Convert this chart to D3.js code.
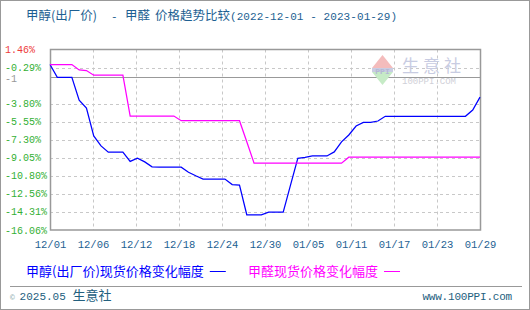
<!DOCTYPE html>
<html>
<head>
<meta charset="utf-8">
<script src="https://cdn.jsdelivr.net/npm/d3@7"></script>
<style>
  body { margin: 0; background: #fff; }
  svg { display: block; }
</style>
</head>
<body>
<div id="chart"></div>
<script>
// Data
const startDay = new Date(2022, 11, 1)
const endDay = new Date(2023, 0, 29)
const days = d3.timeDay.range(startDay, d3.timeDay.offset(endDay, 1))

// 甲醇(出厂价) daily change, %
const methanol = [
    0, -1.25, -1.25, -1.25, -3.45, -4.22, -6.93, -7.9, -8.51, -8.51,
    -8.51, -9.4, -9.09, -9.45, -9.93, -9.96, -9.96, -9.96, -9.96, -10.45,
    -10.8, -11.12, -11.12, -11.12, -11.12, -11.65, -11.7, -14.58, -14.58, -14.58,
    -14.32, -14.32, -14.32, -11.7, -9.1, -9.0, -8.87, -8.87, -8.87, -8.48,
    -7.51, -6.84, -5.97, -5.61, -5.61, -5.48, -5.02, -5.02, -5.02, -5.02,
    -5.02, -5.02, -5.02, -5.02, -5.02, -5.02, -5.02, -5.02, -4.42, -3.16
]
// 甲醛 daily change, %
const formaldehyde = [
    0, 0, 0, 0, -0.52, -0.58, -1.03, -1.03, -1.03, -1.03,
    -1.03, -5.0, -5.0, -5.0, -5.0, -5.0, -5.0, -5.0, -5.45, -5.45,
    -5.45, -5.45, -5.45, -5.45, -5.45, -5.45, -5.45, -7.5, -9.58, -9.58,
    -9.58, -9.58, -9.58, -9.58, -9.58, -9.58, -9.58, -9.58, -9.58, -9.58,
    -9.58, -8.99, -8.99, -8.99, -8.99, -8.99, -8.99, -8.99, -8.99, -8.99,
    -8.99, -8.99, -8.99, -8.99, -8.99, -8.99, -8.99, -8.99, -8.99, -8.99
]

const xTickLabels = ['12/01', '12/06', '12/12', '12/18', '12/24', '12/30', '01/05', '01/11', '01/17', '01/23', '01/29']
const yTicks = [1.46, -0.29, -3.80, -5.55, -7.30, -9.05, -10.80, -12.56, -14.31, -16.06]
const refValue = -1.25
const refLabel = '-1'

const seriesNames = ['甲醇(出厂价)现货价格变化幅度', '甲醛现货价格变化幅度']
const seriesColors = ['#0000ff', '#ff00ff']

// Dimensions
const WIDTH = 530
const HEIGHT = 310
const PLOT = { left: 50, right: 480, top: 49.5, bottom: 230 }
const MONO = '"Liberation Mono", "DejaVu Sans Mono", monospace'
const CJK = '"Noto Sans CJK SC", "Noto Sans", sans-serif'

const svg = d3.select('#chart')
    .append('svg')
    .attr('width', WIDTH)
    .attr('height', HEIGHT)

// outer frame
svg.append('rect')
    .attr('x', 0.5).attr('y', 0.5)
    .attr('width', WIDTH - 1).attr('height', HEIGHT - 1)
    .attr('fill', '#fff')
    .attr('stroke', '#999')

// Title (pieces placed where the reference has them)
const titleParts = [
    { text: '甲醇(出厂价)', x: 26, mono: false },
    { text: '-', x: 111, mono: true },
    { text: '甲醛', x: 125, mono: false },
    { text: '价格趋势比较', x: 155, mono: false },
    { text: '(2022-12-01 - 2023-01-29)', x: 230, mono: true, len: 167 }
]
const title = svg.append('text')
    .attr('y', 19.5)
    .attr('fill', '#1d5f92')
    .style('font-size', '12.5px')
titleParts.forEach(p => {
    const ts = title.append('tspan')
        .attr('x', p.x)
        .style('font-family', p.mono ? MONO : CJK)
        .style('font-size', p.mono ? '11px' : '12.5px')
        .text(p.text)
    if (p.len) ts.attr('textLength', p.len).attr('lengthAdjust', 'spacing')
})

// Scales
const xScale = d3.scaleTime()
    .domain([days[0], days[days.length - 1]])
    .range([PLOT.left, PLOT.right])

const yScale = d3.scaleLinear()
    .domain([yTicks[yTicks.length - 1], yTicks[0]])
    .range([PLOT.bottom, PLOT.top])

const span = days[days.length - 1] - days[0]
const xTickDates = xTickLabels.map((d, i) => new Date(+days[0] + span * i / (xTickLabels.length - 1)))

// Grid
svg.append('g')
    .selectAll('line')
    .data(xTickDates.slice(1, -1))
    .enter()
    .append('line')
    .attr('x1', d => Math.round(xScale(d)) + 0.5)
    .attr('x2', d => Math.round(xScale(d)) + 0.5)
    .attr('y1', PLOT.top)
    .attr('y2', PLOT.bottom)
    .attr('stroke', '#c8c8c8')
    .attr('stroke-dasharray', '3,3')

svg.append('g')
    .selectAll('line')
    .data(yTicks.slice(1, -1))
    .enter()
    .append('line')
    .attr('x1', PLOT.left)
    .attr('x2', PLOT.right)
    .attr('y1', d => Math.round(yScale(d)) + 0.5)
    .attr('y2', d => Math.round(yScale(d)) + 0.5)
    .attr('stroke', '#c8c8c8')
    .attr('stroke-dasharray', '3,3')

// reference line
svg.append('line')
    .attr('x1', PLOT.left)
    .attr('x2', PLOT.right)
    .attr('y1', Math.round(yScale(refValue)) + 0.5)
    .attr('y2', Math.round(yScale(refValue)) + 0.5)
    .attr('stroke', '#999')

// Plot frame
svg.append('rect')
    .attr('x', PLOT.left + 0.5)
    .attr('y', Math.round(PLOT.top) - 0.5)
    .attr('width', PLOT.right - PLOT.left)
    .attr('height', PLOT.bottom - Math.round(PLOT.top) + 0.5)
    .attr('fill', 'none')
    .attr('stroke', '#999')
    .attr('stroke-width', 1.5)

// Watermark
const wm = svg.append('g').attr('transform', 'translate(372,55)')
wm.append('path').attr('d', 'M0,13 L10.5,0 L21,13 Z').attr('fill', '#f4bcbc')
wm.append('path').attr('d', 'M0,17 L10.5,30 L21,17 Z').attr('fill', '#c6ebc6')
wm.append('rect').attr('x', 0).attr('y', 13).attr('width', 21).attr('height', 4).attr('fill', '#c9cde3')
wm.append('text').attr('x', 10.5).attr('y', 19).attr('text-anchor', 'middle')
    .attr('fill', '#b4b8d4').style('font-family', MONO).style('font-size', '8px').style('font-weight', 'bold').text('PPI')
wm.append('text').attr('x', 30).attr('y', 17)
    .attr('fill', '#c8cce2').style('font-family', CJK).style('font-size', '17px').attr('letter-spacing', '4')
    .text('生意社')
wm.append('text').attr('x', 30).attr('y', 29)
    .attr('fill', '#d0d0d8').style('font-family', MONO).style('font-size', '9px')
    .text('100PPI.COM')

// Y labels
svg.append('g')
    .selectAll('text')
    .data(yTicks)
    .enter()
    .append('text')
    .attr('x', 5)
    .attr('y', d => yScale(d) - (d === -0.29 ? 0.5 : 0))
    .attr('dy', '0.35em')
    .attr('fill', (d, i) => i === 0 ? '#ee3b3b' : '#34b034')
    .style('font-family', MONO)
    .style('font-size', '10px')
    .text(d => d.toFixed(2) + '%')

svg.append('text')
    .attr('x', 5)
    .attr('y', yScale(refValue) + 1)
    .attr('dy', '0.35em')
    .attr('fill', '#999')
    .style('font-family', MONO)
    .style('font-size', '10px')
    .text(refLabel)

// X axis
const xAxis = d3.axisBottom(xScale)
    .tickValues(xTickDates)
    .tickFormat((d, i) => xTickLabels[i])
    .tickSize(0)
    .tickPadding(11)

svg.append('g')
    .attr('id', 'x-axis')
    .attr('transform', `translate(0, ${PLOT.bottom})`)
    .call(xAxis)
    .call(g => g.select('.domain').remove())
    .call(g => g.selectAll('text')
        .attr('fill', '#1d5f92')
        .style('font-family', MONO)
        .style('font-size', '10.5px'))

// Lines
const line = d3.line()
    .x((d, i) => xScale(days[i]))
    .y(d => yScale(d))

;[methanol, formaldehyde].forEach((s, k) => {
    svg.append('path')
        .datum(s)
        .attr('fill', 'none')
        .attr('stroke', seriesColors[k])
        .attr('stroke-width', 1.25)
        .attr('d', line)
})

// Legend
const legendX = [26, 248]
seriesNames.forEach((name, k) => {
    const t = svg.append('text')
        .attr('x', legendX[k]).attr('y', 276)
        .attr('fill', seriesColors[k])
        .style('font-family', CJK)
        .style('font-size', '13px')
        .text(name)
    const end = legendX[k] + t.node().getComputedTextLength()
    svg.append('line')
        .attr('x1', end + 6).attr('x2', end + 22)
        .attr('y1', 271.5).attr('y2', 271.5)
        .attr('stroke', seriesColors[k])
})

// Footer
svg.append('line')
    .attr('x1', 10).attr('x2', 522)
    .attr('y1', 286.5).attr('y2', 286.5)
    .attr('stroke', '#999')

svg.append('text')
    .attr('x', 10).attr('y', 300)
    .attr('fill', '#23607e')
    .style('font-size', '13px')
    .call(t => {
        t.append('tspan').style('font-family', MONO).style('font-size', '8px').attr('fill', '#8aa').text('© ')
        t.append('tspan').style('font-family', MONO).style('font-size', '11px').text('2025.05 ')
        t.append('tspan').style('font-family', CJK).text('生意社')
    })

svg.append('text')
    .attr('x', 512).attr('y', 300)
    .attr('text-anchor', 'end')
    .attr('fill', '#23607e')
    .style('font-family', MONO)
    .style('font-size', '11px')
    .attr('letter-spacing', '-0.2')
    .text('www.100PPI.com')
</script>
</body>
</html>
